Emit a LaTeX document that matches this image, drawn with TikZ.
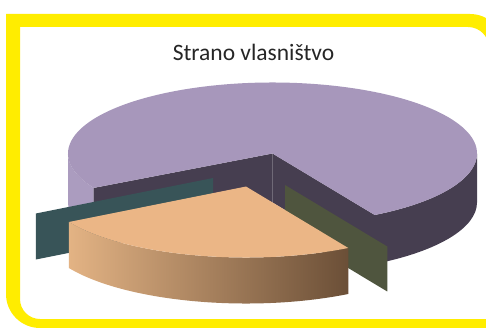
\documentclass[tikz,border=0pt]{standalone}
\usepackage{fontspec}
\setmainfont{Carlito}
\usepackage{xcolor}
\usepackage{tikz}
\usetikzlibrary{calc}
\definecolor{frameyellow}{RGB}{255,237,0}
\definecolor{violettop}{RGB}{167,151,187}
\definecolor{violetrim}{RGB}{171,156,191}
\definecolor{violetdark}{RGB}{70,62,80}
\definecolor{tealwall}{RGB}{56,84,88}
\definecolor{olivewall}{RGB}{79,85,62}
\definecolor{peachtop}{RGB}{235,182,134}
\definecolor{peachlight}{RGB}{227,179,132}
\definecolor{peachdark}{RGB}{107,79,55}
\definecolor{titlegray}{RGB}{38,38,38}
\newcommand{\piedepth}{49pt}
\tikzset{
yellowframe/.style = {fill=frameyellow, even odd rule},
pietop/.style = {fill=violettop},
pierim/.style = {fill=violetrim},
piedark/.style = {fill=violetdark},
tealslice/.style = {fill=tealwall},
oliveslice/.style = {fill=olivewall},
peachface/.style = {fill=peachtop},
peachrim/.style = {left color=peachlight, right color=peachdark},
ell/.style = {x radius=204.5pt, y radius=71pt},
title/.style = {font=\fontsize{23.5}{28}\selectfont, text=titlegray, anchor=base}
}
\begin{document}
\begin{tikzpicture}[x=1pt, y=1pt]
    \useasboundingbox (0,0) rectangle (486,327);
    \clip (0,0) rectangle (486,327);
    \fill[white] (0,0) rectangle (486,327);
    % border
    \fill[yellowframe] (6,313) -- (470,313) arc[start angle=90, end angle=0, radius=34pt] -- (504,-1)
        -- (40,-1) arc[start angle=270, end angle=180, radius=34pt] -- cycle
        (20,300) -- (468,300) arc[start angle=90, end angle=0, radius=21pt] -- (489,8)
        -- (40,8) arc[start angle=270, end angle=180, radius=20pt] -- cycle;

    \node[title] (title) at (253.5,266) {Strano vlasništvo};

    \coordinate (pc) at (272.5,173.5);
    \coordinate (tc) at (213,149);
    \coordinate (oc) at (285,142);
    \coordinate (qc) at (246,140.5);

    % big slice
    \fill[pierim] ($(pc)+(180:204.5pt and 71pt)$) arc[start angle=180, end angle=209, ell]
        -- ++(0,-\piedepth) arc[start angle=209, end angle=180, ell] -- cycle;
    \fill[piedark] ($(pc)+(300:204.5pt and 71pt)$) arc[start angle=300, end angle=360, ell]
        -- ++(0,-\piedepth) arc[start angle=360, end angle=300, ell] -- cycle;
    \fill[piedark] (pc) -- ($(pc)+(209:204.5pt and 71pt)$) -- ++(0,-\piedepth) -- ($(pc)+(0,-\piedepth)$) -- cycle;
    \fill[piedark] (pc) -- ($(pc)+(300:204.5pt and 71pt)$) -- ++(0,-\piedepth) -- ($(pc)+(0,-\piedepth)$) -- cycle;
    \fill[pietop] (pc) -- ($(pc)+(300:204.5pt and 71pt)$) arc[start angle=300, end angle=569, ell] -- cycle;

    % thin slices
    \fill[tealslice] (tc) -- ($(tc)+(210:204.5pt and 71pt)$) -- ++(0,-46) -- ($(tc)+(0,-46)$) -- cycle;
    \fill[oliveslice] (oc) -- ($(oc)+(300:204.5pt and 71pt)$) -- ++(0,-45) -- ($(oc)+(0,-45)$) -- cycle;

    % pulled out slice
    \shade[peachrim] ($(qc)+(210:204.5pt and 71pt)$) arc[start angle=210, end angle=300, ell]
        -- ++(0,-46) arc[start angle=300, end angle=210, ell] -- cycle;
    \fill[peachface] (qc) -- ($(qc)+(210:204.5pt and 71pt)$) arc[start angle=210, end angle=300, ell] -- cycle;
\end{tikzpicture}
\end{document}
